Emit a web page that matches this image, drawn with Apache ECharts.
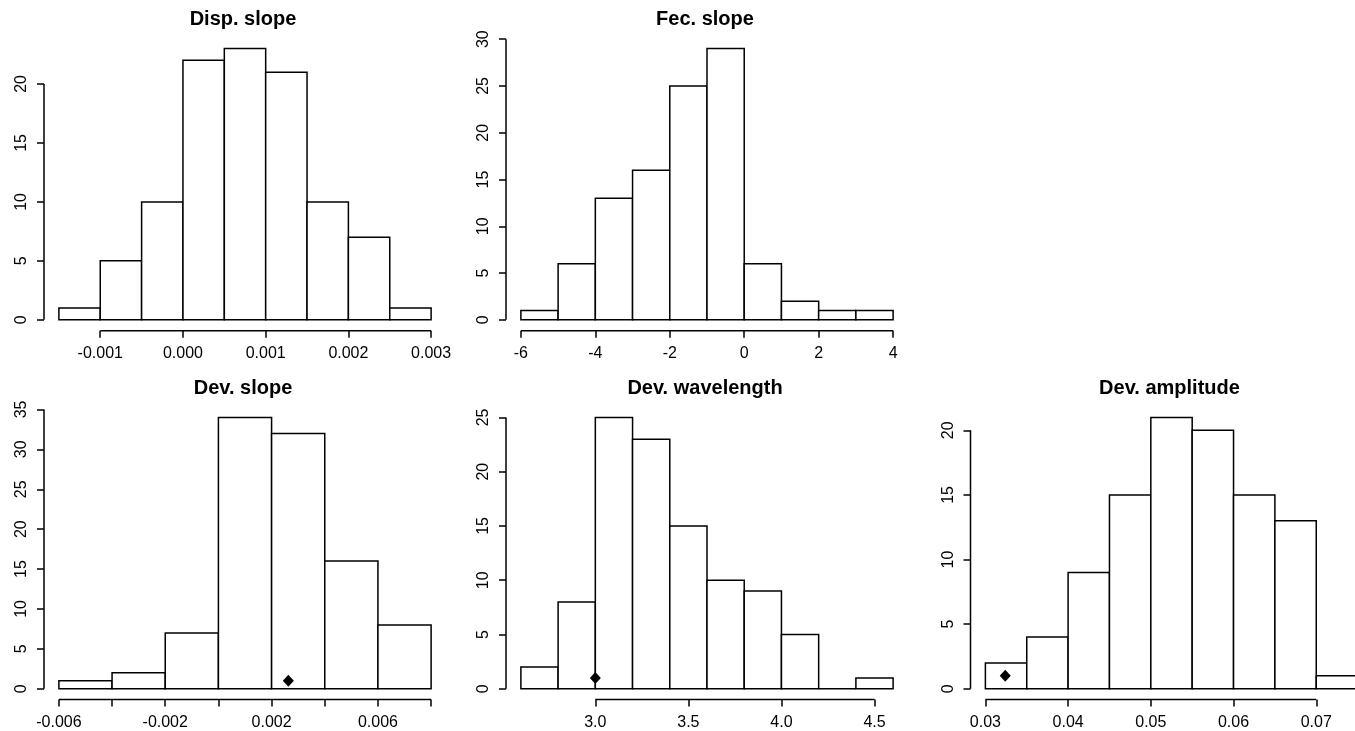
<!DOCTYPE html>
<html><head><meta charset="utf-8">
<script src="https://cdn.jsdelivr.net/npm/echarts@6/dist/echarts.min.js"></script>
<style>html,body{margin:0;padding:0;background:#fff}#c{width:1355px;height:731px}</style>
</head><body><div id="c"></div>
<script>
// ---- data ----
const dispSlopeBreaks = [-0.0015, -0.001, -0.0005, 0, 0.0005, 0.001, 0.0015, 0.002, 0.0025, 0.003];
const dispSlopeCounts = [1, 5, 10, 22, 23, 21, 10, 7, 1];
const dispSlopeXTicks = [-0.001, 0, 0.001, 0.002, 0.003];
const dispSlopeYTicks = [0, 5, 10, 15, 20];

const fecSlopeBreaks = [-6, -5, -4, -3, -2, -1, 0, 1, 2, 3, 4];
const fecSlopeCounts = [1, 6, 13, 16, 25, 29, 6, 2, 1, 1];
const fecSlopeXTicks = [-6, -4, -2, 0, 2, 4];
const fecSlopeYTicks = [0, 5, 10, 15, 20, 25, 30];

const devSlopeBreaks = [-0.006, -0.004, -0.002, 0, 0.002, 0.004, 0.006, 0.008];
const devSlopeCounts = [1, 2, 7, 34, 32, 16, 8];
const devSlopeXTicks = [-0.006, -0.004, -0.002, 0, 0.002, 0.004, 0.006, 0.008];
const devSlopeXLabels = [-0.006, -0.002, 0.002, 0.006];
const devSlopeYTicks = [0, 5, 10, 15, 20, 25, 30, 35];
const devSlopeObs = [0.00263, 1];

const devWaveBreaks = [2.6, 2.8, 3.0, 3.2, 3.4, 3.6, 3.8, 4.0, 4.2, 4.4, 4.6];
const devWaveCounts = [2, 8, 25, 23, 15, 10, 9, 5, 0, 1];
const devWaveXTicks = [3.0, 3.5, 4.0, 4.5];
const devWaveYTicks = [0, 5, 10, 15, 20, 25];
const devWaveObs = [3.0, 1];

const devAmpBreaks = [0.03, 0.035, 0.04, 0.045, 0.05, 0.055, 0.06, 0.065, 0.07, 0.075];
const devAmpCounts = [2, 4, 9, 15, 21, 20, 15, 13, 1];
const devAmpXTicks = [0.03, 0.04, 0.05, 0.06, 0.07];
const devAmpYTicks = [0, 5, 10, 15, 20];
const devAmpObs = [0.0324, 1];

// ---- panels ----
const panels = [
  {title: 'Disp. slope', breaks: dispSlopeBreaks, counts: dispSlopeCounts, xTicks: dispSlopeXTicks, xLabels: dispSlopeXTicks, yTicks: dispSlopeYTicks, dec: 3, obs: null},
  {title: 'Fec. slope', breaks: fecSlopeBreaks, counts: fecSlopeCounts, xTicks: fecSlopeXTicks, xLabels: fecSlopeXTicks, yTicks: fecSlopeYTicks, dec: 0, obs: null},
  {title: 'Dev. slope', breaks: devSlopeBreaks, counts: devSlopeCounts, xTicks: devSlopeXTicks, xLabels: devSlopeXLabels, yTicks: devSlopeYTicks, dec: 3, obs: devSlopeObs},
  {title: 'Dev. wavelength', breaks: devWaveBreaks, counts: devWaveCounts, xTicks: devWaveXTicks, xLabels: devWaveXTicks, yTicks: devWaveYTicks, dec: 1, obs: devWaveObs},
  {title: 'Dev. amplitude', breaks: devAmpBreaks, counts: devAmpCounts, xTicks: devAmpXTicks, xLabels: devAmpXTicks, yTicks: devAmpYTicks, dec: 2, obs: devAmpObs}
];
// layout (pixels); right edge of last panel runs past the canvas as in the reference
const GW = 402, GH = 293;
const layout = [
  {left: 44, top: 37.7}, {left: 506, top: 37.7},
  {left: 44, top: 406.6}, {left: 506, top: 406.6}, {left: 970.5, top: 406.6}
];
const FONT = "'Liberation Sans', Arial, sans-serif";
const INK = '#000';
const LW = 1.5;

const option = {animation: false, backgroundColor: '#fff', title: [], grid: [], xAxis: [], yAxis: [], series: []};

panels.forEach((p, i) => {
  const L = layout[i];
  const xLo0 = p.breaks[0], xHi0 = p.breaks[p.breaks.length - 1];
  const xPad = (xHi0 - xLo0) * 0.04;
  const yHi0 = Math.max.apply(null, p.counts);
  const yPad = yHi0 * 0.04;
  const xMin = xLo0 - xPad, xMax = xHi0 + xPad, yMin = -yPad, yMax = yHi0 + yPad;

  option.title.push({
    text: p.title, left: L.left + GW / 2 - 2, top: L.top - 28, textAlign: 'center', padding: 0,
    textStyle: {fontFamily: FONT, fontSize: 20, fontWeight: 'bold', color: INK}
  });
  option.grid.push({left: L.left, top: L.top, width: GW, height: GH, containLabel: false, outerBoundsMode: 'none'});
  option.xAxis.push({
    type: 'value', gridIndex: i, min: xMin, max: xMax, position: 'bottom',
    axisLine: {show: false, onZero: false}, splitLine: {show: false},
    axisTick: {show: true, customValues: p.xTicks, length: 7, lineStyle: {color: INK, width: LW}},
    axisLabel: {customValues: p.xLabels, formatter: v => v.toFixed(p.dec), color: INK, fontSize: 16, fontFamily: FONT, margin: 15, hideOverlap: false}
  });
  option.yAxis.push({
    type: 'value', gridIndex: i, min: yMin, max: yMax, position: 'left',
    axisLine: {show: false, onZero: false}, splitLine: {show: false},
    axisTick: {show: true, customValues: p.yTicks, length: 7, lineStyle: {color: INK, width: LW}},
    axisLabel: {customValues: p.yTicks, rotate: 90, color: INK, fontSize: 16, fontFamily: FONT, margin: 14, hideOverlap: false}
  });
  // histogram bars
  option.series.push({
    type: 'custom', xAxisIndex: i, yAxisIndex: i, silent: true, clip: false,
    data: p.counts.map((c, j) => [p.breaks[j], p.breaks[j + 1], c]),
    encode: {x: [0, 1], y: 2},
    renderItem: (params, api) => {
      const a = api.coord([api.value(0), api.value(2)]);
      const b = api.coord([api.value(1), 0]);
      return {type: 'rect', shape: {x: a[0], y: a[1], width: b[0] - a[0], height: b[1] - a[1]},
        style: {fill: '#fff', stroke: INK, lineWidth: LW}};
    }
  });
  // axis lines (R style: from first to last tick)
  option.series.push({
    type: 'line', xAxisIndex: i, yAxisIndex: i, silent: true, clip: false, symbol: 'none',
    data: [[p.xTicks[0], yMin], [p.xTicks[p.xTicks.length - 1], yMin]],
    lineStyle: {color: INK, width: LW}
  });
  option.series.push({
    type: 'line', xAxisIndex: i, yAxisIndex: i, silent: true, clip: false, symbol: 'none',
    data: [[xMin, p.yTicks[0]], [xMin, p.yTicks[p.yTicks.length - 1]]],
    lineStyle: {color: INK, width: LW}
  });
  if (p.obs) {
    option.series.push({
      type: 'scatter', xAxisIndex: i, yAxisIndex: i, silent: true, clip: false,
      symbol: 'diamond', symbolSize: [11, 12], itemStyle: {color: INK, opacity: 1},
      data: [p.obs], z: 5
    });
  }
});

const chart = echarts.init(document.getElementById('c'), null, {renderer: 'canvas'});
chart.setOption(option);
</script>
</body></html>
